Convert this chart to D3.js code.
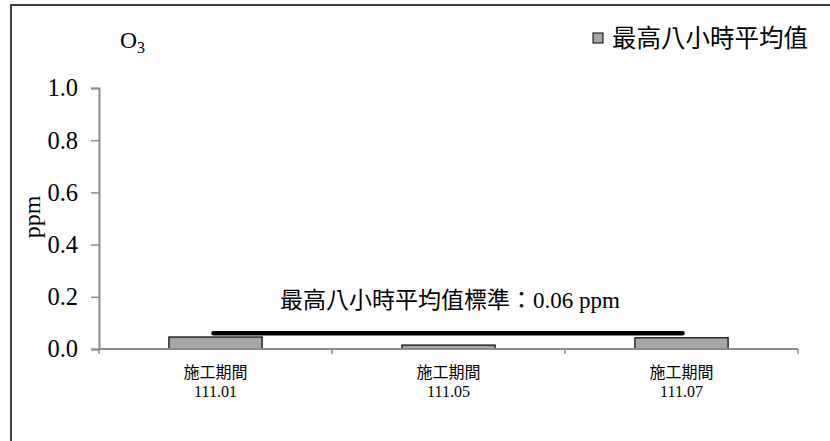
<!DOCTYPE html>
<html>
<head>
<meta charset="utf-8">
<script src="https://cdn.jsdelivr.net/npm/d3@7"></script>
<style>
  body { margin: 0; background: #fff; }
  svg text { font-family: "Liberation Serif", "Noto Sans CJK TC", serif; fill: #000; }
</style>
</head>
<body>
<div id="chart"></div>
<script>
// Data
const periods = ["施工期間", "施工期間", "施工期間"];
const dates = ["111.01", "111.05", "111.07"];
const values = [0.046, 0.015, 0.043];
const standardValue = 0.06;
const yTicks = [0.0, 0.2, 0.4, 0.6, 0.8, 1.0];
const seriesName = "最高八小時平均值";
const standardLabel = "最高八小時平均值標準：0.06 ppm";

const width = 830, height = 441;
const margin = {top: 88, right: 32, bottom: 92, left: 99};
const xwidth = width - margin.left - margin.right;
const yheight = height - margin.top - margin.bottom;

const svg = d3.select("#chart").append("svg")
    .attr("width", width)
    .attr("height", height);

// Outer frame (right and bottom edges run off the picture)
svg.append("rect")
    .attr("x", 11).attr("y", 5)
    .attr("width", 830).attr("height", 450)
    .attr("fill", "none")
    .attr("stroke", "#000")
    .attr("stroke-width", 1.5);

const g = svg.append("g")
    .attr("transform", "translate(" + margin.left + "," + margin.top + ")");

const x = d3.scaleBand()
    .domain(d3.range(values.length))
    .range([0, xwidth])
    .paddingInner(0)
    .paddingOuter(0);

const y = d3.scaleLinear()
    .domain([0, 1])
    .range([yheight, 0]);

// Bars
const barW = x.bandwidth() * 0.4;
g.selectAll("rect.bar")
    .data(values)
    .enter().append("rect")
      .attr("class", "bar")
      .attr("x", (d, i) => x(i) + (x.bandwidth() - barW) / 2)
      .attr("y", d => y(d))
      .attr("width", barW)
      .attr("height", d => yheight - y(d))
      .attr("fill", "#a6a6a6")
      .attr("stroke", "#000")
      .attr("stroke-width", 1.2);

// Y axis
const yAxis = g.append("g")
    .call(d3.axisLeft(y).tickValues(yTicks).tickFormat(d3.format(".1f")).tickSize(8).tickPadding(13));
yAxis.select(".domain").attr("stroke", "#8c8c8c").attr("stroke-width", 2);
yAxis.selectAll(".tick line").attr("stroke", "#8c8c8c").attr("stroke-width", 1.5);
yAxis.selectAll(".tick text")
    .attr("font-size", 24.5)
    .attr("font-family", "Liberation Serif");

// X axis: baseline + ticks at band edges
const xEdges = d3.range(values.length + 1).map(i => i * x.step());
g.append("line")
    .attr("x1", 0).attr("x2", xwidth)
    .attr("y1", yheight).attr("y2", yheight)
    .attr("stroke", "#8c8c8c").attr("stroke-width", 2);
g.selectAll("line.xtick")
    .data(xEdges)
    .enter().append("line")
      .attr("class", "xtick")
      .attr("x1", d => d).attr("x2", d => d)
      .attr("y1", yheight).attr("y2", yheight + 5)
      .attr("stroke", "#8c8c8c").attr("stroke-width", 1.5);

// Category labels
const cat = g.selectAll("g.cat")
    .data(values.map((v, i) => i))
    .enter().append("g")
      .attr("class", "cat")
      .attr("transform", i => "translate(" + (x(i) + x.bandwidth() / 2) + "," + yheight + ")");
cat.append("text")
    .attr("y", 29)
    .attr("text-anchor", "middle")
    .attr("font-size", 16)
    .text(i => periods[i]);
cat.append("text")
    .attr("y", 48)
    .attr("text-anchor", "middle")
    .attr("font-size", 16)
    .text(i => dates[i]);

// Standard line, from centre of first bar to centre of last bar
const lineX1 = x(0) + x.bandwidth() / 2 - 2;
const lineX2 = x(values.length - 1) + x.bandwidth() / 2 + 1;
g.append("line")
    .attr("x1", lineX1).attr("x2", lineX2)
    .attr("y1", y(standardValue)).attr("y2", y(standardValue))
    .attr("stroke", "#000")
    .attr("stroke-width", 4.5)
    .attr("stroke-linecap", "round");

g.append("text")
    .attr("x", (lineX1 + lineX2) / 2 + 2)
    .attr("y", y(standardValue) - 25)
    .attr("text-anchor", "middle")
    .attr("font-size", 23)
    .text(standardLabel);

// Y axis title
svg.append("text")
    .attr("transform", "translate(40,217) rotate(-90)")
    .attr("text-anchor", "middle")
    .attr("font-size", 24)
    .text("ppm");

// Chart title O3
const title = svg.append("text")
    .attr("x", 120).attr("y", 48)
    .attr("font-size", 23.5);
title.append("tspan").text("O");
title.append("tspan").attr("font-size", 16).attr("dy", 5).text("3");

// Legend
svg.append("rect")
    .attr("x", 593).attr("y", 33)
    .attr("width", 10).attr("height", 10)
    .attr("fill", "#a6a6a6")
    .attr("stroke", "#000")
    .attr("stroke-width", 1);
svg.append("text")
    .attr("x", 612).attr("y", 47)
    .attr("font-size", 24.5)
    .text(seriesName);
</script>
</body>
</html>
